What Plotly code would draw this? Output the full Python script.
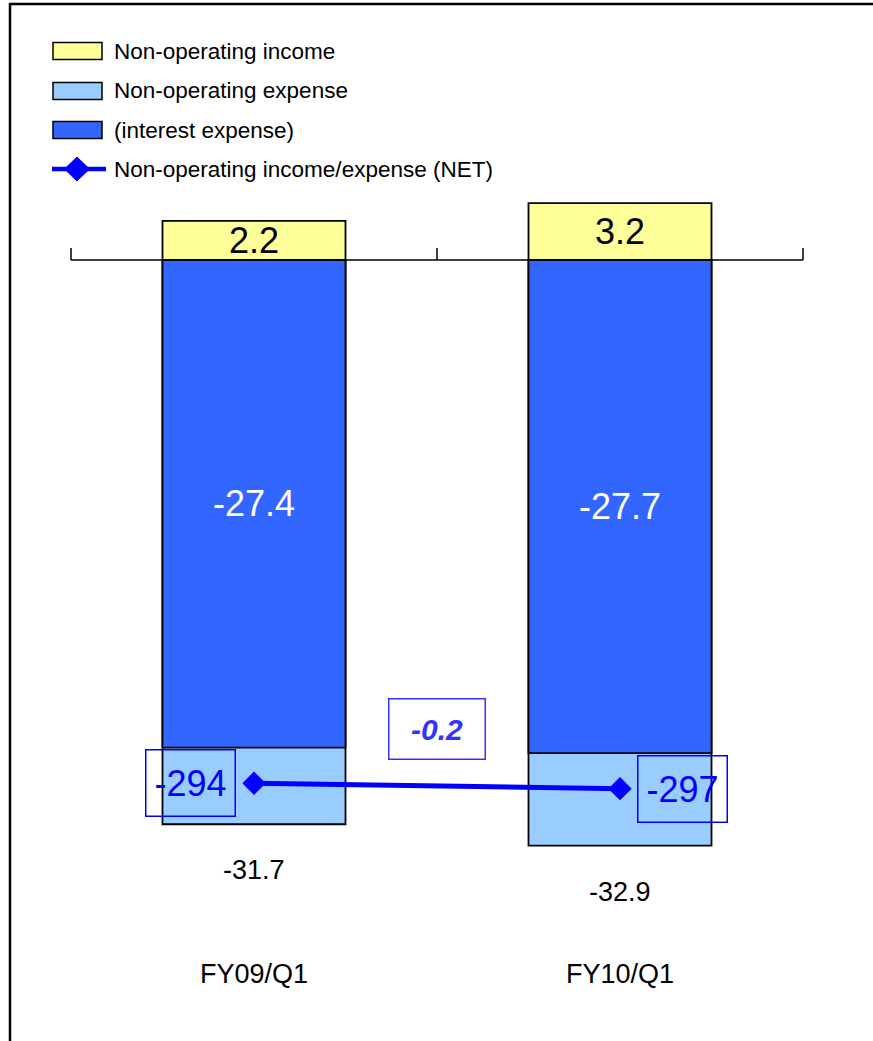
import plotly.graph_objects as go

# ---- data -------------------------------------------------------------
categories = ["FY09/Q1", "FY10/Q1"]
non_operating_income = [2.2, 3.2]          # above zero
non_operating_expense = [-31.7, -32.9]     # total expense, below zero
interest_expense = [-27.4, -27.7]          # part of the expense
net_income_expense = [-294, -297]          # NET, plotted on the secondary scale (x10)
net_change = -0.2

series_names = [
    "Non-operating income",
    "Non-operating expense",
    "(interest expense)",
    "Non-operating income/expense (NET)",
]

# ---- styling ----------------------------------------------------------
W, H = 873, 1041
PLOT_BOTTOM = 955                     # pixel row where the plotting area ends
PX_PER_UNIT = 17.80
ZERO_PX = 260
Y_TOP = ZERO_PX / PX_PER_UNIT
Y_BOTTOM = -(PLOT_BOTTOM - ZERO_PX) / PX_PER_UNIT
X_RANGE = [-254 / 366, (W - 254) / 366]

YELLOW = "#FFFF99"
LIGHT_BLUE = "#99CCFF"
DARK_BLUE = "#3366FF"
LINE_BLUE = "#0000FF"
LABEL_BLUE = "#3333FF"

REGULAR = "Liberation Sans, Arial, sans-serif"

outline = dict(color="black", width=1.8)
BAR_W = 0.5


def px_x(px):
    return px / W


def px_y(py):
    return (PLOT_BOTTOM - py) / PLOT_BOTTOM


fig = go.Figure()

# total expense (light) drawn first, interest expense overlaid on top of it
fig.add_trace(go.Bar(
    x=categories, y=non_operating_expense, width=BAR_W, name=series_names[1],
    marker=dict(color=LIGHT_BLUE, line=outline), showlegend=False,
))
fig.add_trace(go.Bar(
    x=categories, y=interest_expense, width=BAR_W, name=series_names[2],
    marker=dict(color=DARK_BLUE, line=outline), showlegend=False,
    text=[f"{v:.1f}" for v in interest_expense], textposition="inside",
    insidetextanchor="middle", constraintext="none",
    textfont=dict(family=REGULAR, size=36, color="white"),
))
fig.add_trace(go.Bar(
    x=categories, y=non_operating_income, width=BAR_W, name=series_names[0],
    marker=dict(color=YELLOW, line=outline), showlegend=False,
    text=[f"{v:.1f}" for v in non_operating_income], textposition="inside",
    insidetextanchor="middle", constraintext="none",
    textfont=dict(family=REGULAR, size=36, color="black"),
))
fig.add_trace(go.Scatter(
    x=categories, y=net_income_expense, yaxis="y2", name=series_names[3],
    mode="lines+markers", showlegend=False,
    line=dict(color=LINE_BLUE, width=5),
    marker=dict(symbol="diamond", size=18, color=LINE_BLUE),
))

annotations = []
# totals below each bar
for cat, v in zip(categories, non_operating_expense):
    annotations.append(dict(
        x=cat, y=v, xref="x", yref="y", text=f"{v:.1f}", showarrow=False,
        yanchor="top", yshift=-29, font=dict(family=REGULAR, size=27, color="black"),
    ))

# boxed NET labels, left of the first marker and right of the second
for cat, v, side in zip(categories, net_income_expense, ["right", "left"]):
    annotations.append(dict(
        x=cat, y=v, xref="x", yref="y2", text=f"{v:.0f}", showarrow=False,
        xanchor=side, yanchor="middle", xshift=-18 if side == "right" else 17,
        width=86, height=63, borderpad=1, align="center", valign="middle",
        bordercolor=LINE_BLUE, borderwidth=1.5,
        font=dict(family=REGULAR, size=36, color=LINE_BLUE),
    ))

# change in NET between the two quarters
annotations.append(dict(
    x=0.5, y=sum(net_income_expense) / len(net_income_expense), xref="x", yref="y2",
    text=f"<b><i>{net_change:.1f}</i></b>", showarrow=False, yshift=57,
    width=93, height=57, borderpad=1, align="center", valign="middle",
    bordercolor=LABEL_BLUE, borderwidth=1.5,
    font=dict(family=REGULAR, size=30, color=LABEL_BLUE),
))

shapes = []
# category axis line with tick marks at the category boundaries
shapes.append(dict(type="line", xref="x", yref="y", x0=-0.5, x1=len(categories) - 0.5,
                   y0=0, y1=0, line=dict(color="black", width=1.5), layer="below"))
for b in range(len(categories) + 1):
    shapes.append(dict(type="line", xref="x", yref="y", xsizemode="scaled",
                       ysizemode="pixel", yanchor=0, x0=b - 0.5, x1=b - 0.5,
                       y0=0, y1=12, line=dict(color="black", width=1.5), layer="below"))

# chart frame
shapes.append(dict(type="rect", xref="paper", yref="paper",
                   x0=px_x(10), x1=px_x(W + 20), y0=px_y(H + 20), y1=px_y(4),
                   line=dict(color="black", width=2.5), fillcolor="rgba(0,0,0,0)"))

# legend
legend_rows = [51, 91, 130, 169]
swatch_colors = [YELLOW, LIGHT_BLUE, DARK_BLUE]
for name, row in zip(series_names, legend_rows):
    annotations.append(dict(
        x=px_x(112), y=px_y(row), xref="paper", yref="paper", text=name,
        showarrow=False, xanchor="left", yanchor="middle",
        font=dict(family=REGULAR, size=22.5, color="black"),
    ))
for color, row in zip(swatch_colors, legend_rows):
    shapes.append(dict(type="rect", xref="paper", yref="paper",
                       x0=px_x(53), x1=px_x(102), y0=px_y(row + 8.5), y1=px_y(row - 8.5),
                       fillcolor=color, line=dict(color="black", width=1.5)))
shapes.append(dict(type="line", xref="paper", yref="paper",
                   x0=px_x(52), x1=px_x(106), y0=px_y(legend_rows[3]), y1=px_y(legend_rows[3]),
                   line=dict(color=LINE_BLUE, width=4.5)))
shapes.append(dict(type="path", xref="paper", yref="paper",
                   path=(f"M {px_x(77 - 12.5)} {px_y(169)} L {px_x(77)} {px_y(169 - 12)} "
                         f"L {px_x(77 + 12.5)} {px_y(169)} L {px_x(77)} {px_y(169 + 12)} Z"),
                   fillcolor=LINE_BLUE, line=dict(color=LINE_BLUE, width=1)))

fig.update_layout(
    width=W, height=H, autosize=False,
    margin=dict(l=0, r=0, t=0, b=H - PLOT_BOTTOM),
    paper_bgcolor="white", plot_bgcolor="white",
    barmode="overlay", showlegend=False,
    xaxis=dict(range=X_RANGE, showgrid=False, zeroline=False, showline=False,
               ticks="", tickfont=dict(family=REGULAR, size=27, color="black"),
               fixedrange=True),
    yaxis=dict(range=[Y_BOTTOM, Y_TOP], visible=False, fixedrange=True),
    yaxis2=dict(range=[Y_BOTTOM * 10, Y_TOP * 10], overlaying="y", visible=False,
                fixedrange=True),
    shapes=shapes, annotations=annotations,
)

fig.write_html("out.html")
